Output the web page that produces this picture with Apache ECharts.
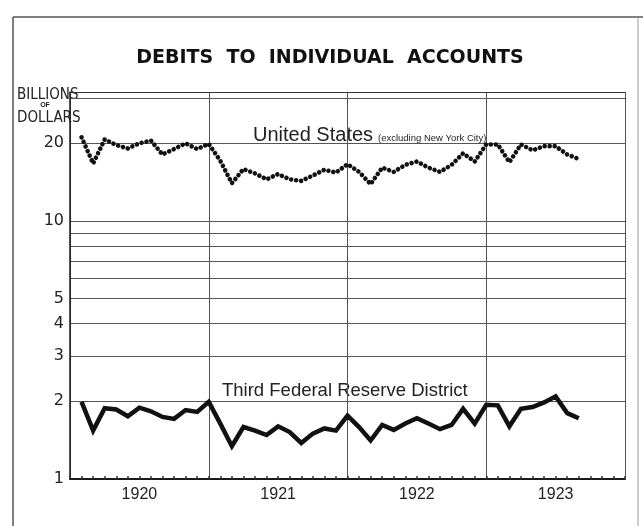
<!DOCTYPE html>
<html><head><meta charset="utf-8">
<script src="https://cdn.jsdelivr.net/npm/echarts@6/dist/echarts.min.js"></script>
<style>html,body{margin:0;padding:0;background:#fff}#c{width:643px;height:526px}</style>
</head><body><div id="c"></div>
<script>
// Month-end observations, Jan 1920 .. Aug 1923
const years = ['1920', '1921', '1922', '1923'];
const usValues = [
  21.1, 16.7, 20.7, 19.7, 19.1, 20.0, 20.5, 18.1, 19.0, 20.0, 19.0, 19.9,
  17.1, 14.0, 15.9, 15.3, 14.5, 15.2, 14.5, 14.3, 15.0, 15.8, 15.4, 16.6,
  15.5, 13.9, 16.1, 15.5, 16.5, 17.0, 16.1, 15.5, 16.5, 18.3, 17.0, 19.8,
  19.8, 16.9, 19.8, 18.8, 19.5, 19.5, 18.1, 17.4
];
const thirdValues = [
  1.99, 1.54, 1.88, 1.86, 1.75, 1.89, 1.83, 1.74, 1.71, 1.85, 1.82, 1.99,
  1.64, 1.34, 1.59, 1.54, 1.48, 1.60, 1.52, 1.38, 1.50, 1.57, 1.54, 1.76,
  1.59, 1.41, 1.62, 1.55, 1.64, 1.72, 1.64, 1.56, 1.62, 1.87, 1.64, 1.94,
  1.93, 1.60, 1.87, 1.90, 1.98, 2.09, 1.80, 1.72
];
const yLabelValues = [1, 2, 3, 4, 5, 10, 20];
const yGridValues = [1, 2, 3, 4, 5, 6, 7, 8, 9, 10, 20, 30];
const monthsPerYear = 12;
const totalMonths = years.length * monthsPerYear;

const toPairs = arr => arr.map((v, i) => [i + 1, v]);
const ink = '#1a1a1a';
const gridInk = '#555';
const handFont = "'Liberation Sans', Arial, sans-serif";
const numFont = "'DejaVu Sans', sans-serif";
const narrowFont = "'Liberation Sans Narrow', 'DejaVu Sans Condensed', 'Liberation Sans', sans-serif";

const chart = echarts.init(document.getElementById('c'), null, {renderer: 'canvas'});
chart.setOption({
  animation: false,
  backgroundColor: '#fff',
  grid: {left: 70, right: 18, top: 92, bottom: 47},
  xAxis: [
    {type: 'value', min: 0, max: totalMonths, interval: monthsPerYear, position: 'bottom',
     axisLine: {show: true, lineStyle: {color: ink, width: 2}},
     axisTick: {show: false}, axisLabel: {show: false},
     splitLine: {show: true, lineStyle: {color: gridInk, width: 1}}},
    {type: 'value', min: 0, max: totalMonths, interval: 1, position: 'bottom',
     axisLine: {show: false},
     axisTick: {show: true, inside: true, length: 3, lineStyle: {color: '#333', width: 1.5}},
     axisLabel: {show: true, margin: 8, fontSize: 16, color: '#222', fontFamily: handFont,
       formatter: v => (v % monthsPerYear === monthsPerYear / 2) ? years[(v - monthsPerYear / 2) / monthsPerYear] : ''},
     splitLine: {show: false}},
    {type: 'value', min: 0, max: totalMonths, position: 'top',
     axisLine: {show: true, lineStyle: {color: '#333', width: 1}},
     axisTick: {show: false}, axisLabel: {show: false}, splitLine: {show: false}}
  ],
  yAxis: {
    type: 'log', logBase: 10, min: 1, max: 31.62,
    axisLine: {show: true, lineStyle: {color: ink, width: 1.5}},
    axisTick: {show: false, customValues: yGridValues},
    axisLabel: {customValues: yLabelValues, fontSize: 16, color: '#222', margin: 6, fontFamily: numFont},
    splitLine: {show: true, lineStyle: {color: gridInk, width: 1}}
  },
  series: [
    {type: 'line', name: 'United States', xAxisIndex: 0, data: toPairs(usValues),
     showSymbol: false, silent: true,
     lineStyle: {color: '#111', width: 4.6, type: [0.01, 5.0], cap: 'round', join: 'round'}},
    {type: 'line', name: 'Third Federal Reserve District', xAxisIndex: 0, data: toPairs(thirdValues),
     showSymbol: false, silent: true,
     lineStyle: {color: '#111', width: 4.5, join: 'miter'}}
  ],
  graphic: [
    {type: 'line', shape: {x1: 13, y1: 17, x2: 643, y2: 17}, style: {stroke: '#555', lineWidth: 1.5}, silent: true},
    {type: 'line', shape: {x1: 13, y1: 17, x2: 13, y2: 526}, style: {stroke: '#555', lineWidth: 1.5}, silent: true},
    {type: 'line', shape: {x1: 638, y1: 17, x2: 638, y2: 526}, style: {stroke: '#999', lineWidth: 1}, silent: true},
    {type: 'text', x: 330, y: 58, style: {text: 'DEBITS  TO  INDIVIDUAL  ACCOUNTS', fill: '#111',
      font: "bold 19px 'DejaVu Sans', sans-serif", textAlign: 'center', textVerticalAlign: 'middle'}},
    {type: 'text', x: 17, y: 95, style: {text: 'BILLIONS', fill: '#222', font: '15px ' + narrowFont, textVerticalAlign: 'middle'}},
    {type: 'text', x: 45, y: 105, style: {text: 'OF', fill: '#222', font: 'bold 7px ' + handFont, textAlign: 'center', textVerticalAlign: 'middle'}},
    {type: 'text', x: 17, y: 118, style: {text: 'DOLLARS', fill: '#222', font: '15px ' + narrowFont, textVerticalAlign: 'middle'}},
    {type: 'text', x: 253, y: 135, style: {text: 'United States', fill: '#222', font: '20px ' + handFont, textVerticalAlign: 'middle'}},
    {type: 'text', x: 378, y: 138, style: {text: '(excluding New York City)', fill: '#222', font: '9.5px ' + handFont, textVerticalAlign: 'middle'}},
    {type: 'text', x: 222, y: 391, style: {text: 'Third Federal Reserve District', fill: '#222', font: '18.5px ' + handFont, textVerticalAlign: 'middle'}}
  ]
});
</script></body></html>
